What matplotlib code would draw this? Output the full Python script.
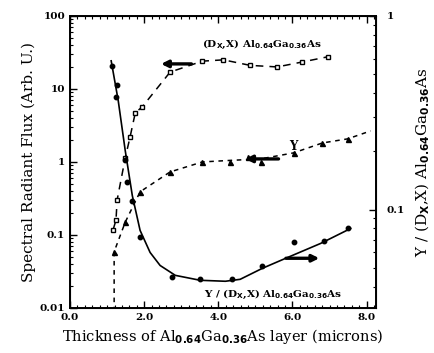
import matplotlib
matplotlib.use("Agg")
import matplotlib.pyplot as plt
from matplotlib.ticker import LogLocator, NullFormatter, FixedLocator, FixedFormatter, MultipleLocator

plt.rcParams['font.family'] = ['DejaVu Serif']
plt.rcParams['font.weight'] = 'bold'
plt.rcParams['mathtext.default'] = 'bf'

# (Dx,X) open squares, left axis
dx_x = [1.16, 1.24, 1.27, 1.49, 1.62, 1.76, 1.95, 2.70, 3.57, 4.14, 4.86, 5.59, 6.27, 6.95]
dx_y = [0.117, 0.16, 0.30, 1.14, 2.2, 4.7, 5.7, 17, 24, 25, 21, 20, 23.4, 27.5]

# Y triangles, left axis
y_x = [1.19, 1.49, 1.89, 2.70, 3.57, 4.32, 4.81, 5.14, 6.03, 6.81, 7.49]
y_y = [0.059, 0.15, 0.39, 0.73, 1.0, 1.0, 1.17, 1.0, 1.33, 1.82, 2.07]
# dashed guide for Y (tail to the bottom and end at the right)
y_line_x = [1.19, 1.19, 1.49, 1.89, 2.70, 3.57, 4.32, 5.14, 6.03, 6.81, 7.49, 8.11]
y_line_y = [0.009, 0.059, 0.15, 0.39, 0.73, 1.0, 1.05, 1.1, 1.33, 1.82, 2.07, 2.66]

# Y / (Dx,X) filled circles, right axis
r_x = [1.14, 1.27, 1.24, 1.49, 1.54, 1.68, 1.89, 2.76, 3.51, 4.38, 5.19, 6.03, 6.84, 7.51]
r_y = [0.55, 0.44, 0.38, 0.18, 0.138, 0.111, 0.072, 0.045, 0.044, 0.044, 0.051, 0.068, 0.069, 0.080]
# solid fit curve through the ratio points
fit_x = [1.11, 1.30, 1.49, 1.68, 1.89, 2.16, 2.43, 2.84, 3.51, 4.19, 4.59, 5.19, 5.81, 6.76, 7.57]
fit_y = [0.586, 0.365, 0.201, 0.118, 0.078, 0.060, 0.0514, 0.0457, 0.0431, 0.0426, 0.0436, 0.0497, 0.0559, 0.0668, 0.0798]

x_ticks = [0, 2, 4, 6, 8]
x_labels = ['0.0', '2.0', '4.0', '6.0', '8.0']
left_ticks = [0.01, 0.1, 1, 10, 100]
left_labels = ['0.01', '0.1', '1', '10', '100']
right_ticks = [0.1, 1]
right_labels = ['0.1', '1']

fig = plt.figure(figsize=(4.35, 3.53), dpi=100)
ax = fig.add_axes([0.161, 0.1275, 0.703, 0.8275])

ax.plot(dx_x, dx_y, color='black', lw=1.1, ls=(0, (5, 4)), marker='s', ms=3.2,
        mfc='white', mec='black', mew=1.0)
ax.plot(y_line_x, y_line_y, color='black', lw=1.1, ls=(0, (3, 3)))
ax.plot(y_x, y_y, ls='none', marker='^', ms=3.6, color='black')

ax.set_yscale('log')
ax.set_xlim(0, 8.25)
ax.set_ylim(0.01, 100)
ax.yaxis.set_major_locator(FixedLocator(left_ticks))
ax.yaxis.set_major_formatter(FixedFormatter(left_labels))
ax.yaxis.set_minor_locator(LogLocator(base=10, subs=range(2, 10)))
ax.yaxis.set_minor_formatter(NullFormatter())
ax.xaxis.set_major_locator(FixedLocator(x_ticks))
ax.xaxis.set_major_formatter(FixedFormatter(x_labels))
ax.xaxis.set_minor_locator(MultipleLocator(0.2))
ax.tick_params(which='both', direction='in', top=True, labelsize=7.5)
ax.tick_params(which='major', length=5, width=1)
ax.tick_params(which='minor', length=2.5, width=0.8)
ax.tick_params(axis='y', which='both', right=False)
for s in ax.spines.values():
    s.set_linewidth(1.4)

ax2 = ax.twinx()
ax2.plot(fit_x, fit_y, color='black', lw=1.2)
ax2.plot(r_x, r_y, ls='none', marker='o', ms=3.2, color='black')
ax2.set_yscale('log')
ax2.set_ylim(0.031, 1.0)
ax2.yaxis.set_major_locator(FixedLocator(right_ticks))
ax2.yaxis.set_major_formatter(FixedFormatter(right_labels))
ax2.yaxis.set_minor_locator(LogLocator(base=10, subs=range(2, 10)))
ax2.yaxis.set_minor_formatter(NullFormatter())
ax2.tick_params(which='both', direction='in', labelsize=7.5, pad=8)
ax2.tick_params(which='major', length=5, width=1)
ax2.tick_params(which='minor', length=2.5, width=0.8)

# arrows pointing to the relevant axis
arrow_kw = dict(arrowstyle='-|>', color='black', lw=2.4, mutation_scale=10)
ax.annotate('', xy=(2.38, 22), xytext=(3.35, 22), arrowprops=arrow_kw)
ax.annotate('', xy=(4.65, 1.1), xytext=(5.70, 1.1), arrowprops=arrow_kw)
ax2.annotate('', xy=(6.80, 0.056), xytext=(5.75, 0.056), arrowprops=arrow_kw)

ax.text(3.55, 38, r'(D$_X$,X) Al$_{0.64}$Ga$_{0.36}$As', fontsize=7.5)
ax.text(5.9, 1.45, 'Y', fontsize=8.5)
ax2.text(3.62, 0.0355, r'Y / (D$_X$,X) Al$_{0.64}$Ga$_{0.36}$As', fontsize=7.5)

ax.set_xlabel(r'Thickness of Al$_{0.64}$Ga$_{0.36}$As layer (microns)', fontsize=10.5, labelpad=4)
ax.set_ylabel('Spectral Radiant Flux (Arb. U.)', fontsize=11, labelpad=3)
ax2.set_ylabel(r'Y / (D$_X$,X) Al$_{0.64}$Ga$_{0.36}$As', fontsize=11, labelpad=6)

fig.savefig('out.png', dpi=100)
